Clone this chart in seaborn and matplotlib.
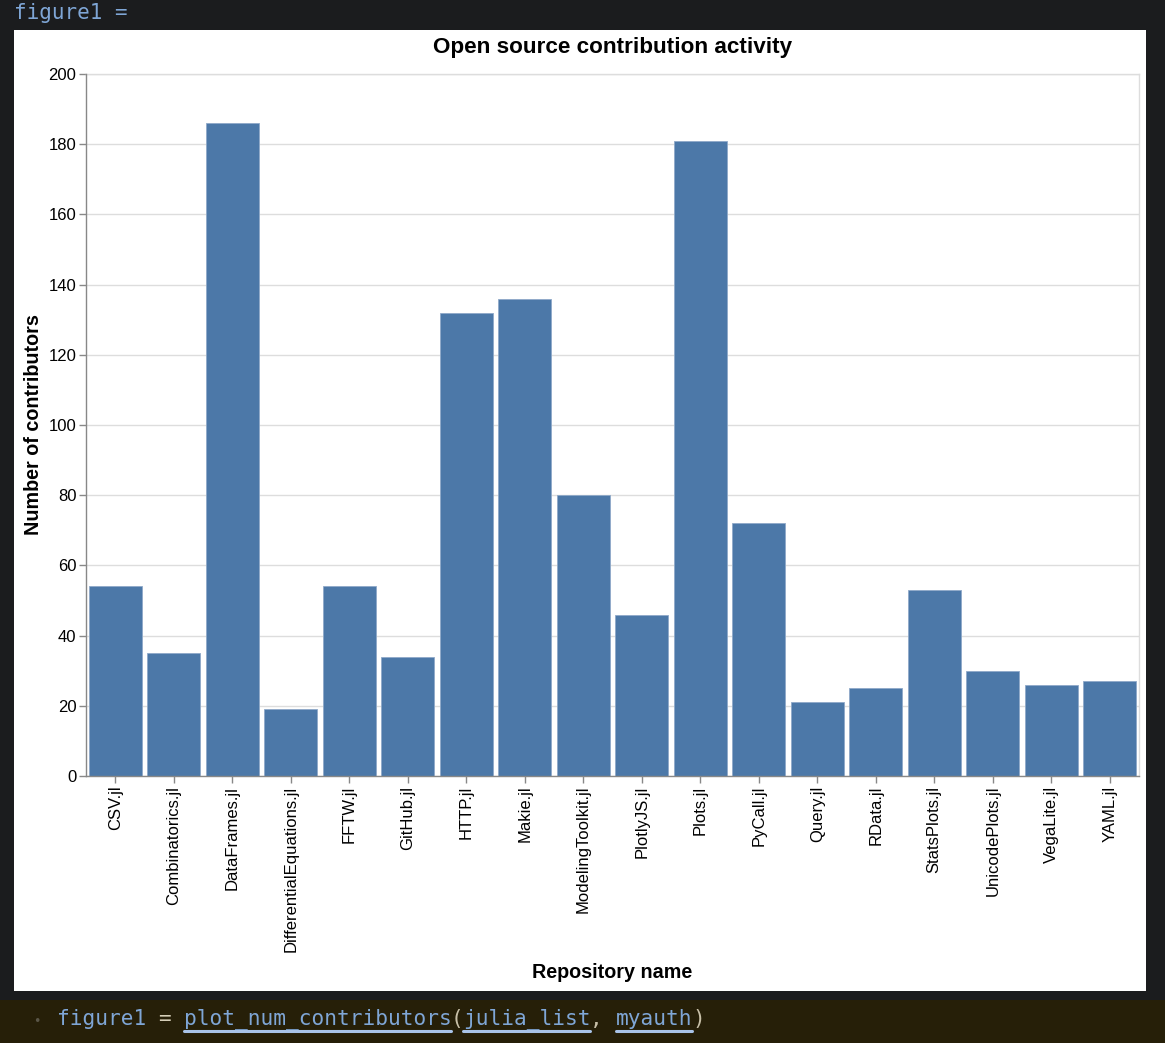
import matplotlib
matplotlib.use("Agg")
import matplotlib.pyplot as plt
from matplotlib.patches import Rectangle
import seaborn as sns
import pandas as pd

repos = ["CSV.jl", "Combinatorics.jl", "DataFrames.jl", "DifferentialEquations.jl",
         "FFTW.jl", "GitHub.jl", "HTTP.jl", "Makie.jl", "ModelingToolkit.jl",
         "PlotlyJS.jl", "Plots.jl", "PyCall.jl", "Query.jl", "RData.jl",
         "StatsPlots.jl", "UnicodePlots.jl", "VegaLite.jl", "YAML.jl"]
contributors = [54, 35, 186, 19, 54, 34, 132, 136, 80, 46, 181, 72, 21, 25, 53, 30, 26, 27]
y_ticks = [0, 20, 40, 60, 80, 100, 120, 140, 160, 180, 200]

df = pd.DataFrame({"repo": repos, "n": contributors})

sns.set_theme(style="white")
plt.rcParams["font.family"] = ["Liberation Sans", "DejaVu Sans"]

W, H = 1165, 1043
fig = plt.figure(figsize=(W / 100, H / 100), dpi=100, facecolor="#1b1c1e")

def px_rect(x0, y0, x1, y1, color):
    fig.patches.append(Rectangle((x0 / W, 1 - y1 / H), (x1 - x0) / W, (y1 - y0) / H,
                                 transform=fig.transFigure, facecolor=color,
                                 edgecolor="none", zorder=-10))

# white output panel and code cell band
px_rect(14, 30, 1146, 991, "white")
px_rect(0, 1000, W, H, "#261f08")

# notebook texts
mono = "DejaVu Sans Mono"
fig.text(14 / W, 1 - 13 / H, "figure1 =", family=mono, fontsize=15,
         color="#7fa6d6", ha="left", va="center")
fig.text(37 / W, 1 - 1021 / H, "•", family="DejaVu Sans", fontsize=9,
         color="#5a5648", ha="center", va="center")
code_x0 = 57
segments = [("figure1 ", "#7fa6d6"), ("= ", "#d6cfb8"),
            ("plot_num_contributors", "#7fa6d6"), ("(", "#c8c0a8"),
            ("julia_list", "#7fa6d6"), (", ", "#c8c0a8"),
            ("myauth", "#7fa6d6"), (")", "#c8c0a8")]
char_w = 12.7
pos = 0
underlined = {"plot_num_contributors", "julia_list", "myauth"}
for seg, col in segments:
    xs = code_x0 + pos * char_w
    fig.text(xs / W, 1 - 1019 / H, seg, family=mono, fontsize=15.2,
             color=col, ha="left", va="center")
    if seg in underlined:
        xe = xs + len(seg) * char_w
        fig.add_artist(plt.Line2D([xs / W, xe / W], [1 - 1031 / H, 1 - 1031 / H],
                                  transform=fig.transFigure, color="#a9c3e8", lw=2.2))
    pos += len(seg)

# chart axes
ax_l, ax_r, ax_t, ax_b = 86, 1139, 74, 776
ax = fig.add_axes([ax_l / W, 1 - ax_b / H, (ax_r - ax_l) / W, (ax_b - ax_t) / H])
ax.set_zorder(2)
ax.set_facecolor("white")

sns.barplot(data=df, x="repo", y="n", color="#4c78a8", saturation=1, width=0.9,
            ax=ax, edgecolor="#8fa9c9", linewidth=0.6, zorder=3)

ax.set_xlim(-0.5, len(repos) - 0.5)
ax.set_ylim(0, 200)
ax.set_yticks(y_ticks)
ax.set_yticklabels([str(v) for v in y_ticks])
ax.grid(axis="y", color="#dddddd", lw=1, zorder=0)
ax.set_axisbelow(True)

for s in ["top", "right"]:
    ax.spines[s].set_visible(True)
    ax.spines[s].set_color("#dddddd")
    ax.spines[s].set_linewidth(1)
for s in ["left", "bottom"]:
    ax.spines[s].set_color("#888888")
    ax.spines[s].set_linewidth(1)
    ax.spines[s].set_zorder(5)

ax.tick_params(axis="both", which="major", direction="out", length=5, width=1,
               color="#888888", labelsize=12, labelcolor="black", pad=2,
               left=True, bottom=True)
plt.setp(ax.get_xticklabels(), rotation=90, ha="center", va="top")

ax.set_title("Open source contribution activity", fontsize=16.2, fontweight="bold",
             color="black", y=(ax_b - 47) / (ax_b - ax_t), va="center", pad=0)
ax.set_xlabel("Repository name", fontsize=14.2, fontweight="bold", color="black")
ax.set_ylabel("Number of contributors", fontsize=14.2, fontweight="bold", color="black")
ax.xaxis.set_label_coords(0.5, (ax_b - 973) / (ax_b - ax_t))
ax.xaxis.label.set_va("center")
ax.yaxis.set_label_coords((33.5 - ax_l) / (ax_r - ax_l), 0.5)
ax.yaxis.label.set_va("center")

fig.savefig("out.png", dpi=100, facecolor=fig.get_facecolor())
